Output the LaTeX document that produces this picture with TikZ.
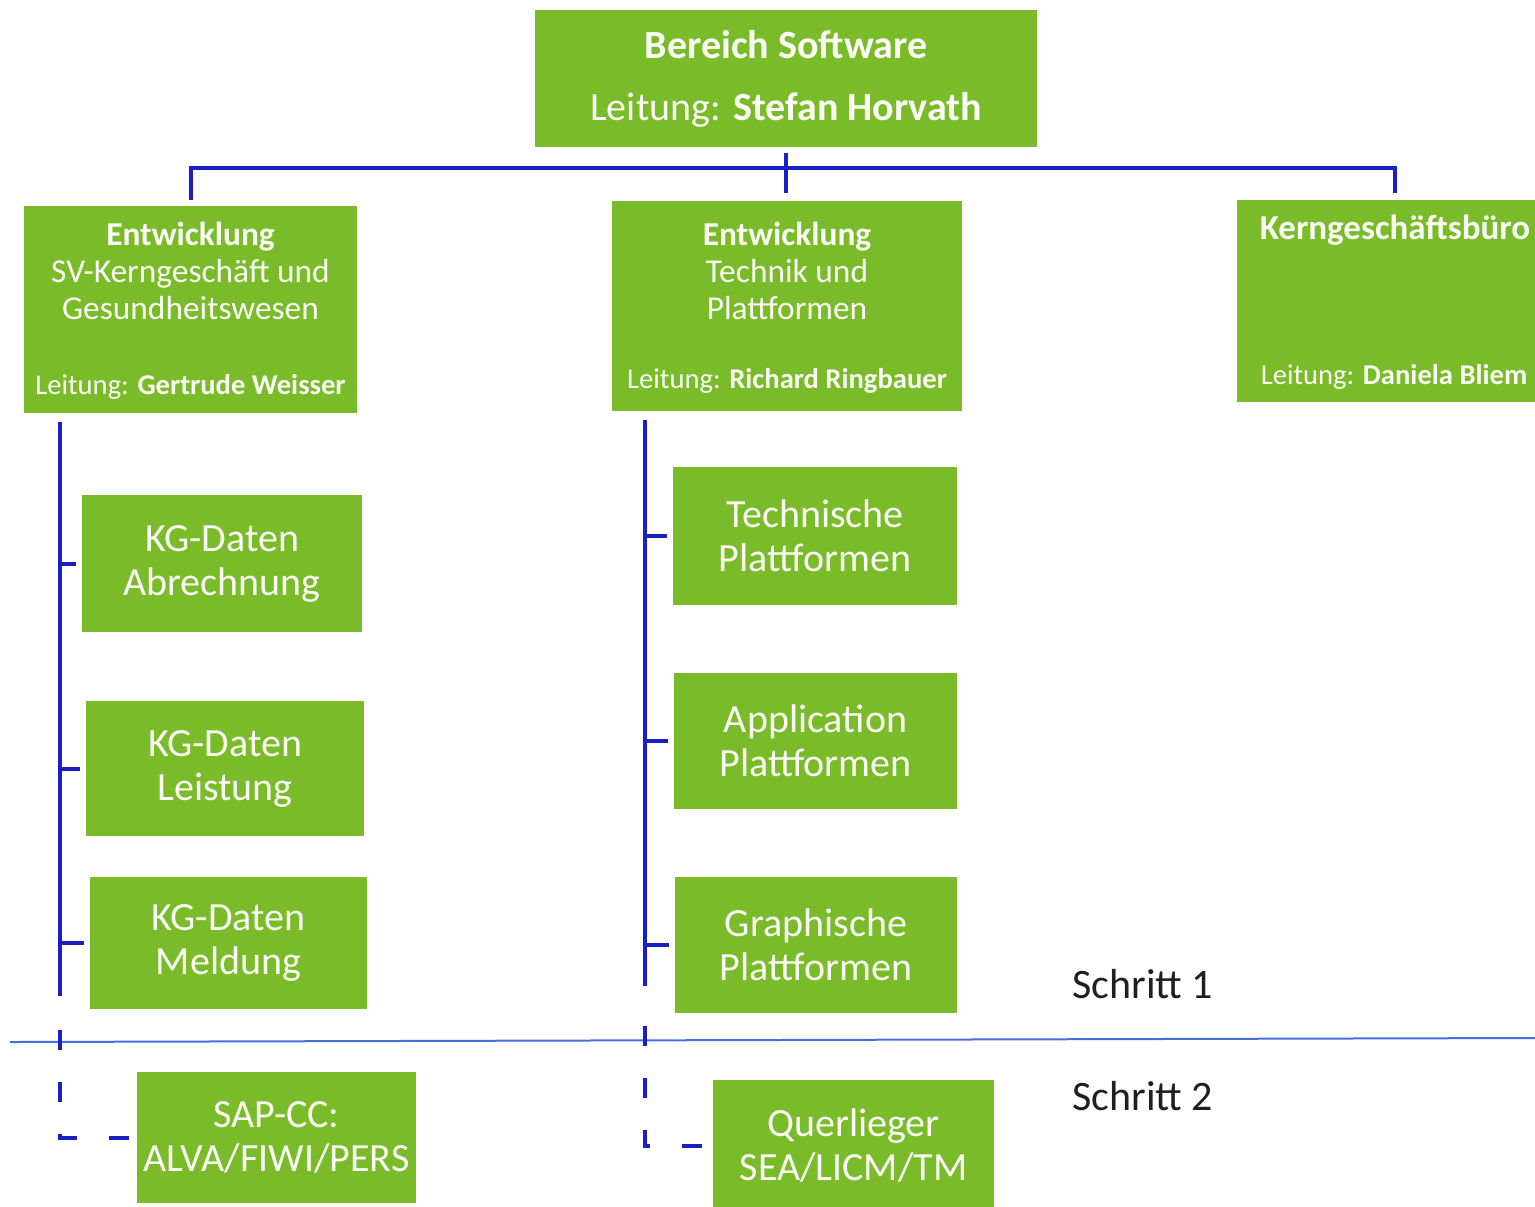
\documentclass[tikz,border=0pt]{standalone}
\usepackage{fontspec}
\setmainfont{Carlito}
\usetikzlibrary{calc}
\definecolor{boxgreen}{RGB}{122,187,42}
\definecolor{linkblue}{RGB}{24,32,196}
\definecolor{sepblue}{RGB}{70,110,225}
\definecolor{boxtext}{RGB}{250,252,245}
\begin{document}
\begin{tikzpicture}[x=0.5pt,y=-0.5pt,
  gbox/.style={fill=boxgreen, draw=none, inner sep=0pt, text=boxtext, align=center},
  big/.style={font=\fontsize{20}{22}\selectfont},
  midtxt/.style={font=\fontsize{16.7}{18.5}\selectfont, text=boxtext, align=center, inner sep=0pt},
  lead/.style={font=\fontsize{14.3}{16}\selectfont, text=boxtext, inner sep=0pt},
  conn/.style={draw=linkblue, line width=2pt},
  dconn/.style={conn, dash pattern=on 10pt off 16pt},
  sepline/.style={draw=sepblue, line width=1pt},
  steplbl/.style={font=\fontsize{21}{24}\selectfont, text=black!88, anchor=west, inner sep=0pt}]
\useasboundingbox (0,0) rectangle (1535,1206);
\clip (0,0) rectangle (1535,1206);

% top
\node[gbox, big, minimum width=251pt, minimum height=68.5pt] (top) at (786,78.5)
  {\textbf{Bereich Software}\\[9pt] Leitung: \textbf{Stefan Horvath}};

% level 1
\node[gbox, minimum width=166.5pt, minimum height=103.5pt] (L1a) at (190.5,309.5) {};
\node[midtxt] (L1atxt) at (190.5,271) {\textbf{Entwicklung}\\SV-Kerngeschäft und\\Gesundheitswesen};
\node[lead] (L1alead) at (190.5,387) {Leitung: \textbf{Gertrude Weisser}};

\node[gbox, minimum width=175pt, minimum height=105pt] (M1) at (787,306) {};
\node[midtxt] (M1txt) at (787,271) {\textbf{Entwicklung}\\Technik und\\Plattformen};
\node[lead] (M1lead) at (787,381) {Leitung: \textbf{Richard Ringbauer}};

\node[gbox, minimum width=158pt, minimum height=101pt] (K) at (1395,301) {};
\node[lead, font=\fontsize{17.5}{20}\selectfont\bfseries] (Ktxt) at (1395,230) {Kerngeschäftsbüro};
\node[lead] (Klead) at (1394,377) {Leitung: \textbf{Daniela Bliem}};

% left children
\node[gbox, big, minimum width=140pt, minimum height=68.5pt] (A1) at (222,563.5) {KG-Daten\\Abrechnung};
\node[gbox, big, minimum width=139pt, minimum height=67.5pt] (A2) at (225,768.5) {KG-Daten\\Leistung};
\node[gbox, big, minimum width=138.5pt, minimum height=66pt] (A3) at (228.5,943) {KG-Daten\\Meldung};
\node[gbox, big, minimum width=139.5pt, minimum height=65.5pt] (A4) at (276.5,1137.5) {SAP-CC:\\ALVA/FIWI/PERS};

% middle children
\node[gbox, big, minimum width=142pt, minimum height=69pt] (B1) at (815,536) {Technische\\Plattformen};
\node[gbox, big, minimum width=141.5pt, minimum height=68pt] (B2) at (815.5,741) {Application\\Plattformen};
\node[gbox, big, minimum width=141pt, minimum height=68pt] (B3) at (816,945) {Graphische\\Plattformen};
\node[gbox, big, minimum width=140.5pt, minimum height=65.5pt] (B4) at (853.5,1145.5) {Querlieger\\SEA/LICM/TM};

% separator and step labels
\coordinate (s0) at (10,1042);
\coordinate (s1) at (1535,1038);
\draw[sepline] (s0) -- (s1);
\node[steplbl] (st1) at (1072,984) {Schritt 1};
\node[steplbl] (st2) at (1072,1096) {Schritt 2};

% top connectors
\draw[conn, shorten <=3pt, shorten >=4pt] (top.south) -- (top.south |- M1.north);
\draw[conn] ($(L1a.north)+(0,-6)$) -- ($(L1a.north)+(0,-38)$) -| ($(K.north)+(0,-7)$);

% left trunk
\coordinate (ta0) at (60,422);
\coordinate (ta1) at (60,996);
\coordinate (ta2) at (60,1030);
\draw[conn] (ta0) -- (ta1);
\foreach \c in {A1,A2,A3} \draw[conn, shorten >=3pt] (ta0 |- \c.west) -- (\c.west);
\draw[dconn, shorten >=3pt] (ta2) |- (A4.west);

% middle trunk
\coordinate (tb0) at (645,420);
\coordinate (tb1) at (645,986);
\coordinate (tb2) at (645,1026);
\draw[conn] (tb0) -- (tb1);
\foreach \c in {B1,B2,B3} \draw[conn, shorten >=3pt] (tb0 |- \c.west) -- (\c.west);
\draw[dconn, shorten >=3pt] (tb2) |- (B4.west);
\end{tikzpicture}
\end{document}
